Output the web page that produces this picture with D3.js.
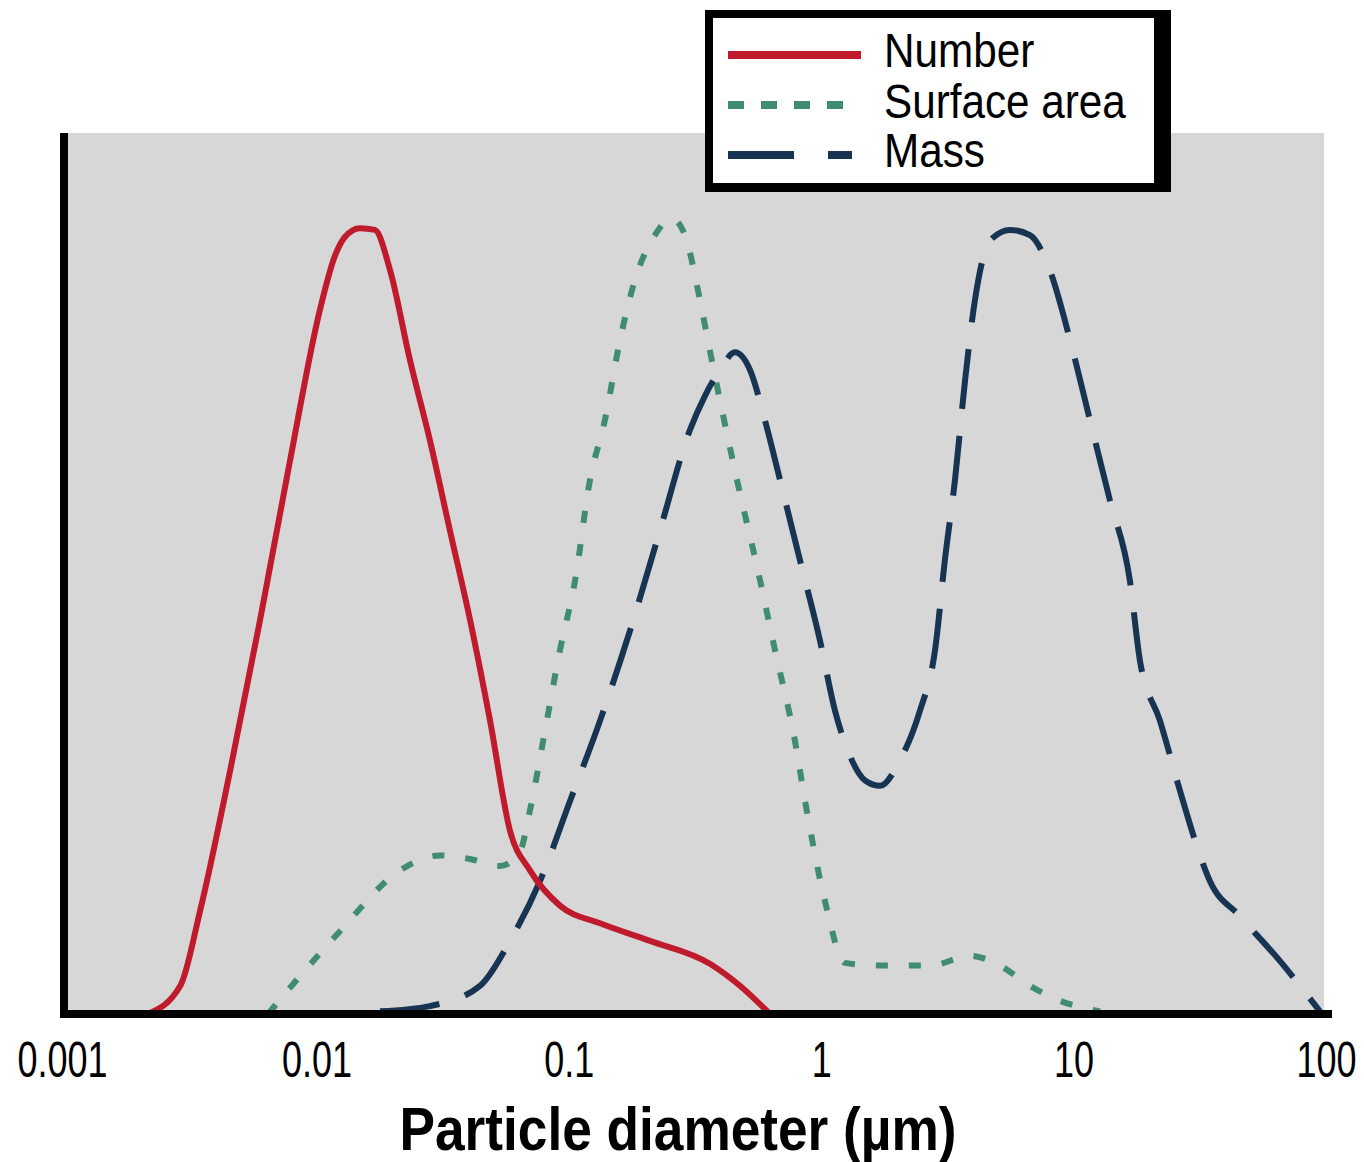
<!DOCTYPE html>
<html>
<head>
<meta charset="utf-8">
<script src="https://cdn.jsdelivr.net/npm/d3@7"></script>
<style>
  body { margin: 0; background: #fff; }
  svg { display: block; }
</style>
</head>
<body>
<svg id="chart" width="1364" height="1162"></svg>
<script>
// tick values on the log axis
var tickValues = [0.001, 0.01, 0.1, 1, 10, 100];
var tickLabels = ["0.001", "0.01", "0.1", "1", "10", "100"];

// series names for the legend
var seriesNames = ["Number", "Surface area", "Mass"];

// Number distribution (diameter in µm, relative amount 0-100)
var numberDiam = [0.00215, 0.00289, 0.00346, 0.00455, 0.00598, 0.00786, 0.0103, 0.01186, 0.01297, 0.01489,
  0.01706, 0.01959, 0.02349, 0.02818, 0.0338, 0.04064, 0.04875, 0.05848, 0.07015, 0.09226,
  0.133, 0.2099, 0.3622, 0.4765, 0.6266];
var numberVal = [0, 3.2, 11.7, 27.6, 44.7, 62.8, 79.8, 86.1, 88.2, 89.2,
  89.0, 84.4, 74.2, 65.1, 54.9, 44.7, 33.3, 20.8, 16.3, 12.3,
  10.3, 8.3, 5.7, 3.2, 0];

// Surface area distribution
var surfaceDiam = [0.00643, 0.00861, 0.0124, 0.02143, 0.0309, 0.04064, 0.05337, 0.06412, 0.07015, 0.08054,
  0.09226, 0.1059, 0.1213, 0.139, 0.1596, 0.1828, 0.2193, 0.2564, 0.2884, 0.3311,
  0.3622, 0.455, 0.5728, 0.6561, 0.787, 0.863, 1.035, 1.242, 1.71, 2.698,
  3.89, 5.105, 6.714, 8.831, 12.73];
var surfaceVal = [0, 4.3, 9.4, 16.3, 18.0, 17.6, 16.8, 18.5, 23.1, 32.2,
  41.3, 49.2, 60.6, 67.4, 76.5, 83.3, 88.4, 90.3, 88.4, 81.0,
  75.3, 61.7, 49.2, 41.3, 31.0, 24.2, 12.8, 5.8, 5.5, 5.5,
  6.6, 5.5, 3.2, 1.5, 0.3];

// Mass distribution
var massDiam = [0.01786, 0.02818, 0.04446, 0.05848, 0.07691, 0.1012, 0.133, 0.1747, 0.2297, 0.302,
  0.3467, 0.3972, 0.455, 0.5224, 0.5984, 0.6871, 0.8241, 0.9886, 1.135, 1.3,
  1.493, 1.71, 2.051, 2.46, 2.825, 3.09, 3.388, 3.715, 4.064, 4.667,
  5.598, 6.714, 8.054, 9.683, 11.61, 13.93, 16.71, 18.32, 21.98, 26.42,
  30.27, 34.67, 45.6, 65.77, 94.6];
var massVal = [0.3, 0.9, 3.2, 8.3, 15.1, 24.2, 33.3, 43.5, 54.9, 66.3,
  70.2, 73.1, 75.1, 73.1, 67.4, 60.6, 51.5, 42.4, 34.4, 29.3,
  26.5, 25.9, 28.8, 34.4, 41.3, 51.5, 60.6, 71.9, 81.0, 87.8,
  89.0, 88.4, 84.4, 76.5, 67.4, 58.3, 49.2, 40.1, 33.3, 25.3,
  19.7, 15.1, 11.1, 6.0, 0.3];

var colors = ["#bf1b2c", "#3f8d6e", "#173553"];
var dashes = [null, "12,21", "60,27"];
var widths = [6, 6, 6];

var svg = d3.select("#chart");

var plot = { left: 64, right: 1324, top: 133, bottom: 1014 };

var x = d3.scaleLog()
  .domain([0.001, 100])
  .range([plot.left, plot.right + 2]);

var y = d3.scaleLinear()
  .domain([0, 100])
  .range([plot.bottom, plot.top]);

// gray plotting area
svg.append("rect")
  .attr("x", plot.left)
  .attr("y", plot.top)
  .attr("width", plot.right - plot.left)
  .attr("height", plot.bottom - plot.top)
  .attr("fill", "#d7d7d7");

function zipSeries(d, v) {
  return d.map(function(dd, i) { return { d: dd, v: v[i] }; });
}
var series = [
  zipSeries(numberDiam, numberVal),
  zipSeries(surfaceDiam, surfaceVal),
  zipSeries(massDiam, massVal)
];

var line = d3.line()
  .x(function(p) { return x(p.d); })
  .y(function(p) { return y(p.v); })
  .curve(d3.curveMonotoneX);

// draw number last so it sits on top like the original
[1, 2, 0].forEach(function(i) {
  svg.append("path")
    .datum(series[i])
    .attr("d", line)
    .attr("fill", "none")
    .attr("stroke", colors[i])
    .attr("stroke-width", widths[i])
    .attr("stroke-dasharray", dashes[i])
    .attr("stroke-linejoin", "round");
});

// axes
var xAxis = d3.axisBottom(x)
  .tickValues(tickValues)
  .tickFormat(function(d, i) { return tickLabels[i]; })
  .tickSize(0)
  .tickPadding(0);

var gx = svg.append("g")
  .attr("transform", "translate(0," + plot.bottom + ")")
  .call(xAxis);
gx.select(".domain").remove();
gx.selectAll(".tick text")
  .attr("y", 0)
  .attr("dy", 0)
  .attr("font-family", "Liberation Sans, Arial, sans-serif")
  .attr("font-size", 50)
  .attr("fill", "#000")
  .attr("transform", "translate(0,63) scale(0.72,1)");
gx.select(".tick:first-of-type text").attr("transform", "translate(-2,63) scale(0.72,1)");

svg.append("line")
  .attr("x1", 60).attr("x2", 1332)
  .attr("y1", plot.bottom).attr("y2", plot.bottom)
  .attr("stroke", "#000").attr("stroke-width", 8);
svg.append("line")
  .attr("x1", plot.left).attr("x2", plot.left)
  .attr("y1", plot.top).attr("y2", plot.bottom + 4)
  .attr("stroke", "#000").attr("stroke-width", 8);

svg.append("text")
  .attr("x", 678)
  .attr("y", 1150)
  .attr("text-anchor", "middle")
  .attr("font-family", "Liberation Sans, Arial, sans-serif")
  .attr("font-weight", "bold")
  .attr("font-size", 62)
  .attr("textLength", 557)
  .attr("lengthAdjust", "spacingAndGlyphs")
  .text("Particle diameter (µm)");

// legend box with heavy right edge
var legend = svg.append("g");
legend.append("rect")
  .attr("x", 705).attr("y", 10)
  .attr("width", 466).attr("height", 182)
  .attr("fill", "#000");
legend.append("rect")
  .attr("x", 713).attr("y", 18)
  .attr("width", 441).attr("height", 165)
  .attr("fill", "#fff");

var legendDash = [null, "16,17", "66,34"];
var legendLineY = [55, 105, 155];
var legendTextY = [67, 118, 167];
seriesNames.forEach(function(name, i) {
  legend.append("line")
    .attr("x1", 728).attr("x2", i == 0 ? 861 : 852)
    .attr("y1", legendLineY[i]).attr("y2", legendLineY[i])
    .attr("stroke", colors[i])
    .attr("stroke-width", 8)
    .attr("stroke-dasharray", legendDash[i]);
  legend.append("text")
    .attr("transform", "translate(884," + legendTextY[i] + ") scale(0.88,1)")
    .attr("font-family", "Liberation Sans, Arial, sans-serif")
    .attr("font-size", 48)
    .attr("fill", "#000")
    .text(name);
});
</script>
</body>
</html>
